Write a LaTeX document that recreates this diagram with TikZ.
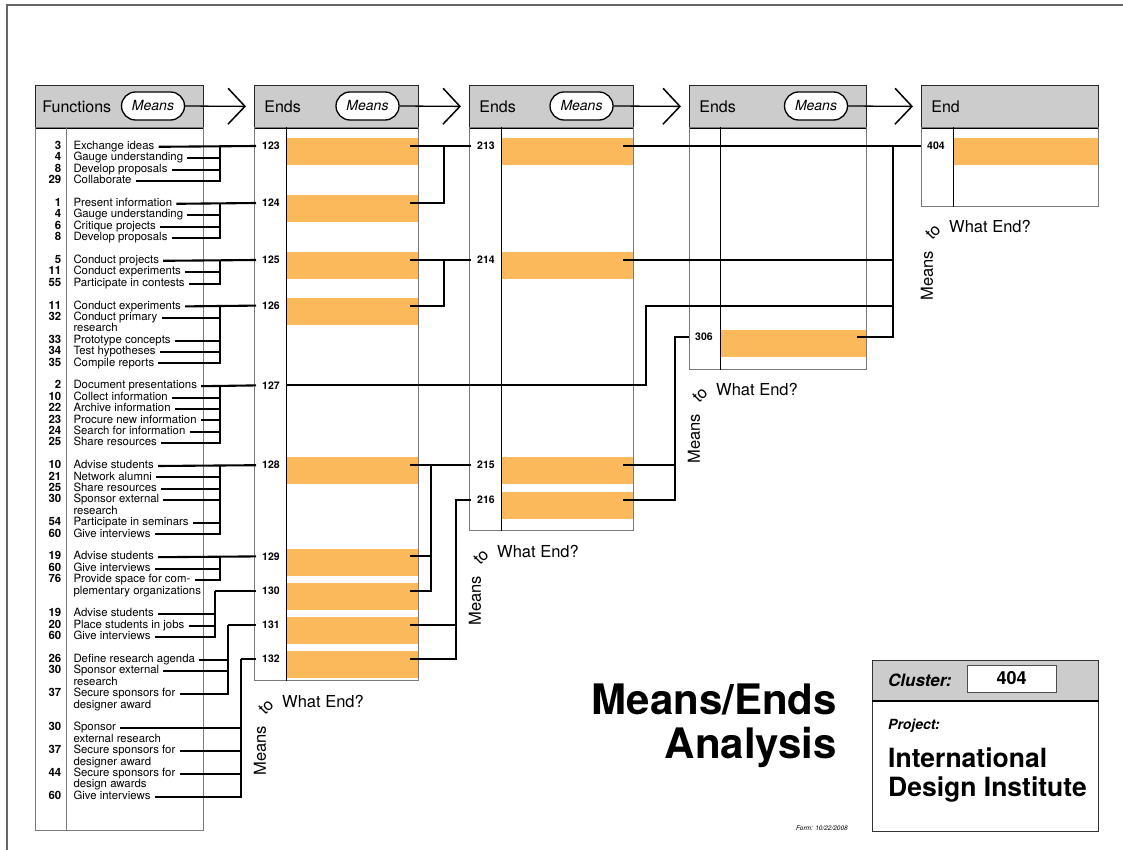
\documentclass[tikz,border=0pt]{standalone}
\usepackage{fontspec}
\setmainfont{TeX Gyre Heros}
\usepackage{tikz}
\usetikzlibrary{arrows.meta,positioning,shapes.misc,calc}
\definecolor{formgray}{HTML}{CCCCCC}
\definecolor{barorange}{HTML}{FBB95C}
\definecolor{rulegray}{HTML}{7A7A7A}

\begin{document}
\begin{tikzpicture}[x=1pt, y=-1pt, >=Latex,
    every node/.style={font=\fontsize{11.4}{11.4}\selectfont},
    head/.style={draw=black!85, fill=formgray, line width=0.8pt, anchor=north west, minimum height=42pt, align=left, font=\fontsize{16}{16}\selectfont},
    body/.style={draw=rulegray, line width=1.1pt, anchor=north west, inner sep=0pt},
    pill/.style={rounded rectangle, draw, fill=white, line width=1.3pt, minimum width=63pt, minimum height=28pt, inner sep=0pt, font=\fontsize{14}{14}\selectfont\itshape},
    flow/.style={line width=1.3pt, -{Straight Barb[length=17pt, width=36pt, line width=1.5pt]}},
    bar/.style={fill=barorange, anchor=north west, inner sep=0pt, minimum height=27pt},
    endno/.style={anchor=west, inner xsep=6pt, inner ysep=0pt, font=\fontsize{10.5}{10.5}\selectfont\bfseries},
    fnum/.style={anchor=mid east, inner sep=0pt, font=\fontsize{11.4}{11.4}\selectfont\bfseries},
    ftext/.style={anchor=mid west, inner xsep=4pt, inner ysep=0pt},
    link/.style={line width=2.1pt},
    ask/.style={font=\fontsize{16.5}{16.5}\selectfont, inner sep=0pt}]
  \useasboundingbox (0,0) rectangle (1123,850);
  \draw[line width=1.6pt, black!60] (1123,5) -| (7,850);

  % orange ends
  \node[bar, minimum width=132pt] (b123) at (286,138) {};
  \node[bar, minimum width=132pt] (b124) at (286,195) {};
  \node[bar, minimum width=132pt] (b125) at (286,252) {};
  \node[bar, minimum width=132pt] (b126) at (286,297.6) {};
  \node[bar, minimum width=132pt] (b128) at (286,457.2) {};
  \node[bar, minimum width=132pt] (b129) at (286,548.4) {};
  \node[bar, minimum width=132pt] (b130) at (286,582.6) {};
  \node[bar, minimum width=132pt] (b131) at (286,616.8) {};
  \node[bar, minimum width=132pt] (b132) at (286,651) {};
  \node[bar, minimum width=132pt] (b213) at (501,138) {};
  \node[bar, minimum width=132pt] (b214) at (501,252) {};
  \node[bar, minimum width=132pt] (b215) at (501,457.2) {};
  \node[bar, minimum width=132pt] (b216) at (501,492) {};
  \node[bar, minimum width=146pt] (b306) at (720,330) {};
  \node[bar, minimum width=145pt] (b404) at (953,138) {};

  % columns
  \node[head, inner xsep=7pt, text width=154pt] (hd1) at (35,85) {Functions};
  \node[head, inner xsep=10pt, text width=144pt] (hd2) at (254,85) {Ends};
  \node[head, inner xsep=10pt, text width=144pt] (hd3) at (469,85) {Ends};
  \node[head, inner xsep=10pt, text width=157pt] (hd4) at (689,85) {Ends};
  \node[head, inner xsep=10pt, text width=157pt] (hd5) at (921,85) {End};
  \foreach \h in {hd1,hd2,hd3,hd4,hd5}
    \draw[line width=2.2pt] (\h.south west) -- (\h.south east);
  \node[body, minimum width=168pt, minimum height=703pt] (bd1) at (35,127) {};
  \node[body, minimum width=164pt, minimum height=553pt] (bd2) at (254,127) {};
  \node[body, minimum width=164pt, minimum height=403pt] (bd3) at (469,127) {};
  \node[body, minimum width=177pt, minimum height=242pt] (bd4) at (689,127) {};
  \node[body, minimum width=177pt, minimum height=79pt] (bd5) at (921,127) {};
  \draw[line width=0.9pt, rulegray] ([xshift=31pt]bd1.north west) -- ([xshift=31pt]bd1.south west);
  \draw[line width=0.8pt] ([xshift=32pt]bd2.north west) -- ([xshift=32pt]bd2.south west);
  \draw[line width=0.8pt] ([xshift=32pt]bd3.north west) -- ([xshift=32pt]bd3.south west);
  \draw[line width=0.8pt] ([xshift=31pt]bd4.north west) -- ([xshift=31pt]bd4.south west);
  \draw[line width=0.8pt] ([xshift=32pt]bd5.north west) -- ([xshift=32pt]bd5.south west);

  \node[pill] (m1) at (153,106) {Means};
  \node[pill] (m2) at (367.5,106) {Means};
  \node[pill] (m3) at (581.5,106) {Means};
  \node[pill] (m4) at (816,106) {Means};
  \draw[flow] (m1.east) -- ([xshift=-8pt]hd2.west);
  \draw[flow] (m2.east) -- ([xshift=-8pt]hd3.west);
  \draw[flow] (m3.east) -- ([xshift=-8pt]hd4.west);
  \draw[flow] (m4.east) -- ([xshift=-8pt]hd5.west);

  % end numbers
  \node[endno] (l123) at (256,146) {123};
  \node[endno] (l124) at (256,203) {124};
  \node[endno] (l125) at (256,260) {125};
  \node[endno] (l126) at (256,305.6) {126};
  \node[endno] (l127) at (256,385.4) {127};
  \node[endno] (l128) at (256,465.2) {128};
  \node[endno] (l129) at (256,556.4) {129};
  \node[endno] (l130) at (256,590.6) {130};
  \node[endno] (l131) at (256,624.8) {131};
  \node[endno] (l132) at (256,659) {132};
  \node[endno] (l213) at (471,146) {213};
  \node[endno] (l214) at (471,260) {214};
  \node[endno] (l215) at (471,465.2) {215};
  \node[endno] (l216) at (471,500) {216};
  \node[endno] (l306) at (689,337) {306};
  \node[endno] (l404) at (921,146) {404};

  % functions
  \foreach \i/\num/\txt in {0/3/Exchange ideas, 1/4/Gauge understanding,
      2/8/Develop proposals, 3/29/Collaborate, 5/1/Present information,
      6/4/Gauge understanding, 7/6/Critique projects, 8/8/Develop proposals,
      10/5/Conduct projects, 11/11/Conduct experiments, 12/55/Participate in contests,
      14/11/Conduct experiments, 15/32/Conduct primary, 16//research,
      17/33/Prototype concepts, 18/34/Test hypotheses, 19/35/Compile reports,
      21/2/Document presentations, 22/10/Collect information, 23/22/Archive information,
      24/23/Procure new information, 25/24/Search for information, 26/25/Share resources,
      28/10/Advise students, 29/21/Network alumni, 30/25/Share resources,
      31/30/Sponsor external, 32//research, 33/54/Participate in seminars,
      34/60/Give interviews, 36/19/Advise students, 37/60/Give interviews,
      38/76/Provide space for com-, 39//plementary organizations,
      41/19/Advise students, 42/20/Place students in jobs, 43/60/Give interviews,
      45/26/Define research agenda, 46/30/Sponsor external, 47//research,
      48/37/Secure sponsors for, 49//designer award, 51/30/Sponsor,
      52//external research, 53/37/Secure sponsors for, 54//designer award,
      55/44/Secure sponsors for, 56//design awards, 57/60/Give interviews}
  {
    \node[fnum] (n\i) at (61.5,{146.8+11.4*\i}) {\num};
    \node[ftext] (f\i) at (69.3,{146.8+11.4*\i}) {\txt};
  }

  % functions to ends
  \draw[link] (f0.mid east) -- (l123.west);
  \draw[link] (f5.mid east) -- (l124.west);
  \draw[link] (f10.mid east) -- (l125.west);
  \draw[link] (f14.mid east) -- (l126.west);
  \draw[link] (f21.mid east) -- (l127.west);
  \draw[link] (f28.mid east) -- (l128.west);
  \draw[link] (f36.mid east) -- (l129.west);
  \draw[link] (l130.west) -- (215,590.6);
  \draw[link] (l131.west) -- (228,624.8);
  \draw[link] (l132.west) -- (241,659);
  \foreach \i/\bx/\t in {1/220/0, 2/220/0, 3/220/0, 6/220/5, 7/220/5, 8/220/5,
      11/220/10, 12/220/10, 15/220/14, 17/220/14, 18/220/14, 19/220/14,
      22/220/21, 23/220/21, 24/220/21, 25/220/21, 26/220/21,
      29/220/28, 30/220/28, 31/220/28, 33/220/28, 34/220/28, 37/220/36, 38/220/36,
      41/215/39, 42/215/39, 43/215/39, 45/228/42, 46/228/42, 48/228/42,
      51/241/45, 53/241/45, 55/241/45, 57/241/45}
    \draw[link] (f\i.mid east) -| (\bx,{146+11.4*\t});

  % ends to ends
  \draw[link] ($(b123.east |- l123)+(-8,0)$) -- (l213.west);
  \draw[link] ($(b124.east |- l124)+(-8,0)$) -| (444,146);
  \draw[link] ($(b125.east |- l125)+(-8,0)$) -- (l214.west);
  \draw[link] ($(b126.east |- l126)+(-8,0)$) -| (444,260);
  \draw[link] ($(b128.east |- l128)+(-8,0)$) -- (l215.west);
  \draw[link] ($(b129.east |- l129)+(-8,0)$) -| (431,465.2);
  \draw[link] ($(b130.east |- l130)+(-8,0)$) -| (431,465.2);
  \draw[link] ($(b131.east |- l131)+(-8,0)$) -- (456,624.8);
  \draw[link] ($(b132.east |- l132)+(-8,0)$) -| (456,500) -- (l216.west);
  \draw[link] ($(b213.east |- l213)+(-10,0)$) -- (l404.west);
  \draw[link] ($(b214.east |- l214)+(-10,0)$) -| (893,146);
  \draw[link] (l127.east) -| (646,305.6) -| (893,146);
  \draw[link] ($(b215.east |- l215)+(-10,0)$) -- (675,465.2);
  \draw[link] ($(b216.east |- l216)+(-10,0)$) -| (675,337) -- (l306.west);
  \draw[link] ($(b306.east |- l306)+(-9,0)$) -| (893,146);

  % means to what end?
  \node[ask, anchor=west] (we1) at (282,702) {What End?};
  \node[ask, rotate=45] (to1) at (266,707) {to};
  \node[ask, rotate=90, anchor=east] (mt1) at (260,726) {Means};
  \node[ask, anchor=west] (we2) at (497,552) {What End?};
  \node[ask, rotate=45] (to2) at (481,557) {to};
  \node[ask, rotate=90, anchor=east] (mt2) at (475,576) {Means};
  \node[ask, anchor=west] (we3) at (716,390) {What End?};
  \node[ask, rotate=45] (to3) at (700,395) {to};
  \node[ask, rotate=90, anchor=east] (mt3) at (694,414) {Means};
  \node[ask, anchor=west] (we4) at (949,227) {What End?};
  \node[ask, rotate=45] (to4) at (933,232) {to};
  \node[ask, rotate=90, anchor=east] (mt4) at (927,251) {Means};

  % title and cluster box
  \node[anchor=base east, inner sep=0pt, font=\fontsize{42}{42}\selectfont\bfseries] (ttl1) at (837,714) {Means/Ends};
  \node[anchor=base east, inner sep=0pt, font=\fontsize{42}{42}\selectfont\bfseries] (ttl2) at (837,758) {Analysis};
  \node[anchor=east, inner sep=0pt, font=\fontsize{6.5}{6.5}\selectfont\itshape] (form) at (848,828) {Form: 10/22/2008};

  \node[draw=black!80, line width=0.9pt, anchor=north west, minimum width=226pt, minimum height=171pt, inner sep=0pt] (clbox) at (872,660) {};
  \node[draw=black!80, fill=formgray, line width=0.9pt, anchor=north west, minimum width=226pt, minimum height=40pt, inner sep=0pt] (clhead) at (872,660) {};
  \draw[line width=2.2pt] (clhead.south west) -- (clhead.south east);
  \node[anchor=west, inner sep=0pt, font=\fontsize{17}{17}\selectfont\bfseries\itshape] (cllab) at (888,680) {Cluster:};
  \node[draw=black!70, fill=white, line width=0.9pt, minimum width=89pt, minimum height=27pt, inner sep=0pt, font=\fontsize{18}{18}\selectfont\bfseries] (clno) at (1011.5,678.5) {404};
  \node[anchor=west, inner sep=0pt, font=\fontsize{14}{14}\selectfont\bfseries\itshape] (prlab) at (888,726) {Project:};
  \node[anchor=north west, inner sep=0pt, align=left, font=\fontsize{26.5}{28.5}\selectfont\bfseries] (prname) at (888,748) {International\\Design Institute};
\end{tikzpicture}
\end{document}
